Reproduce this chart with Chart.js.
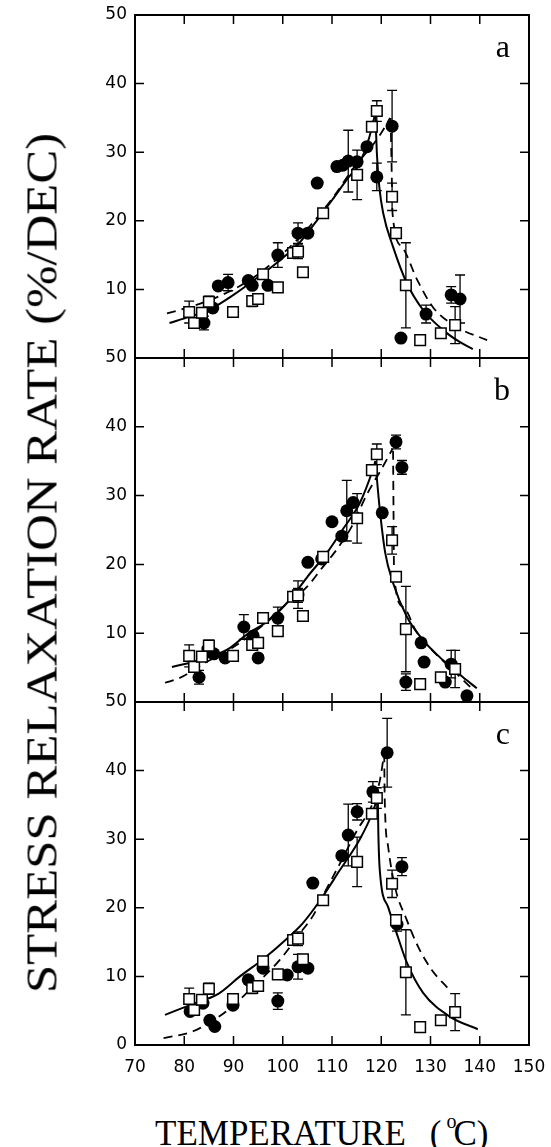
<!DOCTYPE html>
<html>
<head>
<meta charset="utf-8">
<script src="https://cdn.jsdelivr.net/npm/chart.js@4.4.0/dist/chart.umd.min.js"></script>
<style>
  body { margin: 0; background: #fff; }
  #wrap { position: relative; width: 551px; height: 1147px; overflow: hidden; background: #fff; }
  canvas { position: absolute; left: 0; }
  #ytitle {
    position: absolute; left: 42px; top: 563px;
    font: 45px "Liberation Serif", serif; line-height: 45px;
    white-space: nowrap; color: #000;
  }
  #xtitle {
    position: absolute; left: 155px; top: 1116px;
    font: 35px "Liberation Serif", serif; line-height: 35px;
    white-space: nowrap; color: #000;
  }
  #xtitle .gap { display: inline-block; width: 24px; }
  #xtitle .deg { position: relative; top: -17px; font-size: 20px; margin-left: 5px; margin-right: -3px; }
</style>
</head>
<body>
<div id="wrap">
  <canvas id="pa" width="551" height="368" style="top:0px"></canvas>
  <canvas id="pb" width="551" height="369" style="top:343px"></canvas>
  <canvas id="pc" width="551" height="398" style="top:687px"></canvas>
  <div id="ytitle">STRESS RELAXATION RATE (%/DEC)</div>
  <div id="xtitle">TEMPERATURE<span class="gap"></span>(<span class="deg">o</span>C)</div>
</div>
<script>
// axis ticks
const xTicks = [70, 80, 90, 100, 110, 120, 130, 140, 150];
const yTicks = [0, 10, 20, 30, 40, 50];

// open squares (same reference set in every panel)
const sqT    = [81.0, 82.0, 83.6, 85.0, 89.9, 93.8, 95.0, 96.0, 99.0, 102.1, 103.1, 104.1, 108.2, 115.1, 118.1, 119.1, 122.2, 123.0, 125.0, 127.9, 132.1, 135.0];
const sqRate = [6.7, 5.1, 6.6, 8.2, 6.7, 8.3, 8.6, 12.2, 10.3, 15.3, 15.5, 12.5, 21.1, 26.7, 33.7, 36.0, 23.5, 18.2, 10.6, 2.6, 3.6, 4.8];
const sqErr  = [1.6, 0, 0, 0.8, 0, 0.8, 0, 0, 0, 0, 1.0, 0, 0, 3.6, 0, 1.5, 2.0, 0, 6.2, 0, 0, 2.7];

// panel a - filled circles
const aT    = [84.0, 85.8, 86.9, 88.9, 93.0, 93.8, 97.0, 99.0, 103.1, 105.1, 107.0, 111.0, 112.2, 113.3, 115.1, 117.1, 119.1, 122.2, 124.0, 129.1, 134.2, 136.0];
const aRate = [5.1, 7.3, 10.5, 11.0, 11.3, 10.6, 10.6, 15.0, 18.2, 18.2, 25.5, 27.9, 28.1, 28.7, 28.6, 30.8, 26.4, 33.8, 2.9, 6.4, 9.2, 8.6];
const aErr  = [1.0, 0, 0, 1.2, 0, 0, 0, 1.8, 1.5, 0, 0, 0, 0, 4.5, 0, 0, 2.0, 5.2, 0, 1.3, 1.2, 3.5];
// panel a - curves
const aSolidLT = [77, 81, 85, 90, 95, 99, 103.5, 107, 110, 113, 115.7, 117.5, 118.8];
const aSolidLY = [5.1, 6.0, 7.0, 9.2, 11.8, 14.0, 16.9, 20.1, 23.0, 26.0, 28.6, 32.0, 35.7];
const aSolidRT = [118.8, 119.1, 119.6, 120.4, 122.4, 125.2, 128.5, 132.5, 136, 138.6];
const aSolidRY = [35.7, 30.0, 25.0, 21.1, 16.2, 10.9, 7.0, 4.1, 2.3, 1.3];
const aDashLT = [76.5, 80, 85, 90, 95, 100, 105, 110, 115, 118, 120, 121.8];
const aDashLY = [6.5, 7.2, 8.4, 10.0, 12.2, 15.2, 18.8, 23.2, 28.3, 30.8, 32.8, 35.0];
const aDashRT = [121.9, 122.1, 122.3, 124.2, 127.3, 130.5, 135.4, 141.5];
const aDashRY = [35.0, 28.0, 21.0, 16.2, 11.4, 7.4, 4.5, 2.6];

// panel b - filled circles
const bT    = [83.0, 84.8, 86.0, 88.3, 92.1, 94.0, 95.0, 99.0, 103.1, 105.1, 107.9, 110.0, 112.0, 113.0, 114.3, 120.2, 123.0, 124.2, 125.0, 128.1, 128.7, 133.0, 134.2, 137.4];
const bRate = [3.6, 7.7, 7.0, 6.4, 10.9, 9.6, 6.4, 12.2, 15.6, 20.3, 20.8, 26.2, 24.1, 27.8, 29.0, 27.5, 37.8, 34.1, 2.9, 8.6, 5.8, 2.9, 5.5, 0.9];
const bErr  = [1.0, 0.8, 0, 0, 1.8, 0, 0, 1.6, 2.0, 0, 0, 0, 0, 4.4, 0, 0, 1.0, 1.0, 1.2, 0, 0, 0, 2.0, 0];
// panel b - curves
const bSolidLT = [77.5, 83.2, 88.7, 92.7, 97.4, 101.5, 105, 109, 112.2, 115.7, 118.3, 118.8];
const bSolidLY = [5.1, 6.1, 7.6, 9.8, 12.0, 14.9, 18.2, 21.7, 25.1, 29.0, 33.8, 35.0];
const bSolidRT = [118.8, 119.7, 120.8, 122.4, 125.2, 128.5, 132.5, 136.6, 139.4];
const bSolidRY = [35.0, 28.0, 21.7, 17.3, 12.4, 9.0, 6.1, 3.6, 2.0];
const bDashLT = [76.1, 79.1, 84, 90, 95, 100, 105, 108, 111, 114, 117.1, 120, 122.3];
const bDashLY = [2.8, 3.5, 5.6, 8.0, 10.6, 13.8, 16.8, 19.5, 22.2, 25.5, 30.2, 33.8, 36.8];
const bDashRT = [122.4, 122.5, 122.6, 124.5, 127, 130, 134, 138.5];
const bDashRY = [36.5, 27.0, 18.5, 13.8, 10.4, 7.8, 5.0, 1.9];

// panel c - filled circles
const cT    = [81.2, 83.8, 85.2, 86.2, 89.9, 93.0, 96.0, 99.0, 100.9, 103.1, 105.1, 106.1, 112.0, 113.3, 115.1, 118.3, 121.2, 123.2, 124.2];
const cRate = [4.9, 6.1, 3.6, 2.7, 5.8, 9.5, 11.2, 6.4, 10.2, 11.4, 11.2, 23.6, 27.6, 30.6, 34.0, 36.9, 42.6, 17.6, 26.0];
const cErr  = [0, 0, 0, 0, 0, 0, 0, 1.2, 0, 1.8, 0, 0, 0, 4.5, 1.2, 1.5, 5.0, 1.0, 1.3];
// panel c - curves
const cSolidLT = [76.1, 81.8, 87, 91.3, 96, 101, 104, 107.6, 111.6, 115.5, 118.3, 119.3];
const cSolidLY = [4.4, 6.0, 7.5, 10.0, 12.5, 15.6, 17.7, 21.1, 25.5, 29.8, 34.0, 36.3];
const cSolidRT = [119.3, 119.4, 119.7, 121.4, 123.4, 125.2, 128.5, 134, 139.6];
const cSolidRY = [36.3, 31.3, 25.5, 20.1, 15.7, 12.0, 7.6, 4.1, 2.3];
const cDashLT = [75.8, 81.8, 88.7, 94, 99.4, 103.5, 106.2, 108.2, 111.5, 115.1, 118, 119.7, 120.6];
const cDashLY = [1.0, 2.0, 5.0, 8.5, 12.4, 16.3, 18.9, 21.8, 26.3, 31.3, 34.8, 38.5, 42.5];
const cDashRT = [120.6, 120.7, 121.4, 122.8, 125.2, 127.5, 130.3, 133.5];
const cDashRY = [42.5, 36.0, 28.9, 23.0, 18.2, 14.3, 10.9, 8.3];

function pts(xs, ys) {
    return xs.map((x, i) => ({ x: x, y: ys[i] }));
}

// error bars drawn just under their own markers
const errorBars = {
    id: 'errorBars',
    beforeDatasetDraw(chart, args) {
        const ds = chart.data.datasets[args.index];
        if (!ds.errors) return;
        const ctx = chart.ctx, xs = chart.scales.x, ys = chart.scales.y;
        ctx.save();
        ctx.strokeStyle = '#000';
        ctx.lineWidth = 1.3;
        ds.data.forEach((p, i) => {
            const e = ds.errors[i];
            if (!e) return;
            const px = xs.getPixelForValue(p.x);
            const top = ys.getPixelForValue(p.y + e);
            const bot = ys.getPixelForValue(p.y - e);
            ctx.beginPath();
            ctx.moveTo(px, top); ctx.lineTo(px, bot);
            ctx.moveTo(px - 5, top); ctx.lineTo(px + 5, top);
            ctx.moveTo(px - 5, bot); ctx.lineTo(px + 5, bot);
            ctx.stroke();
        });
        ctx.restore();
    }
};

// box with inward ticks and the panel letter
const frame = {
    id: 'frame',
    afterDraw(chart, args, opts) {
        const ctx = chart.ctx, a = chart.chartArea;
        const xs = chart.scales.x, ys = chart.scales.y;
        ctx.save();
        ctx.strokeStyle = '#000';
        ctx.lineWidth = 2;
        ctx.strokeRect(a.left, a.top, a.right - a.left, a.bottom - a.top);
        ctx.lineWidth = 1.5;
        ctx.beginPath();
        xTicks.slice(1, -1).forEach(v => {
            const px = xs.getPixelForValue(v);
            ctx.moveTo(px, a.top); ctx.lineTo(px, a.top + 9);
            ctx.moveTo(px, a.bottom); ctx.lineTo(px, a.bottom - 9);
        });
        yTicks.slice(1, -1).forEach(v => {
            const py = ys.getPixelForValue(v);
            ctx.moveTo(a.left, py); ctx.lineTo(a.left + 9, py);
            ctx.moveTo(a.right, py); ctx.lineTo(a.right - 9, py);
        });
        ctx.stroke();
        ctx.fillStyle = '#000';
        ctx.font = '32px "Liberation Serif", serif';
        ctx.textAlign = 'right';
        ctx.textBaseline = 'alphabetic';
        ctx.fillText(opts.letter, a.right - 19, a.top + 42);
        ctx.restore();
    }
};

function makePanel(id, letter, cx, cy, ce, sl, sr, dl, dr, showX) {
    const curve = (data, dashed) => ({
        type: 'line',
        data: data,
        borderColor: '#000',
        borderWidth: dashed ? 1.8 : 2,
        borderDash: dashed ? [9, 6] : [],
        pointRadius: 0,
        fill: false,
        cubicInterpolationMode: 'monotone',
        order: dashed ? 3 : 2
    });
    new Chart(document.getElementById(id), {
        type: 'scatter',
        data: {
            datasets: [
                {
                    data: pts(sqT, sqRate), errors: sqErr,
                    pointStyle: 'rect', pointRadius: 7.5,
                    backgroundColor: '#fff', borderColor: '#000', borderWidth: 1.5,
                    order: 0
                },
                {
                    data: pts(cx, cy), errors: ce,
                    pointStyle: 'circle', pointRadius: 6.5,
                    backgroundColor: '#000', borderColor: '#000', borderWidth: 0,
                    order: 1
                },
                curve(sl, false), curve(sr, false),
                curve(dl, true), curve(dr, true)
            ]
        },
        options: {
            responsive: false,
            animation: false,
            layout: { padding: { top: 15, right: 22, bottom: showX ? 0 : 10, left: 0 } },
            plugins: { legend: { display: false }, tooltip: { enabled: false }, frame: { letter: letter } },
            scales: {
                x: {
                    type: 'linear', min: 70, max: 150,
                    display: showX,
                    grid: { display: false, drawTicks: false },
                    border: { display: false },
                    afterBuildTicks: s => { s.ticks = xTicks.map(v => ({ value: v })); },
                    afterFit: s => {
                        s.paddingLeft = 0; s.paddingRight = 0;
                        if (showX) s.height = 40;
                    },
                    ticks: { color: '#000', padding: 12, font: { family: 'DejaVu Sans', size: 17 } }
                },
                y: {
                    type: 'linear', min: 0, max: 50,
                    grid: { display: false, drawTicks: false },
                    border: { display: false },
                    afterBuildTicks: s => { s.ticks = yTicks.map(v => ({ value: v })); },
                    afterFit: s => { s.width = 135; s.paddingTop = 0; s.paddingBottom = 0; },
                    ticks: {
                        color: '#000', padding: 8,
                        font: { family: 'DejaVu Sans', size: 17 },
                        callback: v => (v === 0 && letter !== 'c') ? '' : String(v)
                    }
                }
            }
        },
        plugins: [errorBars, frame]
    });
}

makePanel('pa', 'a', aT, aRate, aErr, pts(aSolidLT, aSolidLY), pts(aSolidRT, aSolidRY), pts(aDashLT, aDashLY), pts(aDashRT, aDashRY), false);
makePanel('pb', 'b', bT, bRate, bErr, pts(bSolidLT, bSolidLY), pts(bSolidRT, bSolidRY), pts(bDashLT, bDashLY), pts(bDashRT, bDashRY), false);
makePanel('pc', 'c', cT, cRate, cErr, pts(cSolidLT, cSolidLY), pts(cSolidRT, cSolidRY), pts(cDashLT, cDashLY), pts(cDashRT, cDashRY), true);

// stretch the vertical title to the length it has in the figure
const yt = document.getElementById('ytitle');
const k = 860 / yt.offsetWidth;
yt.style.transform = 'translate(-50%, -50%) rotate(-90deg) scaleX(' + k + ')';
</script>
</body>
</html>
